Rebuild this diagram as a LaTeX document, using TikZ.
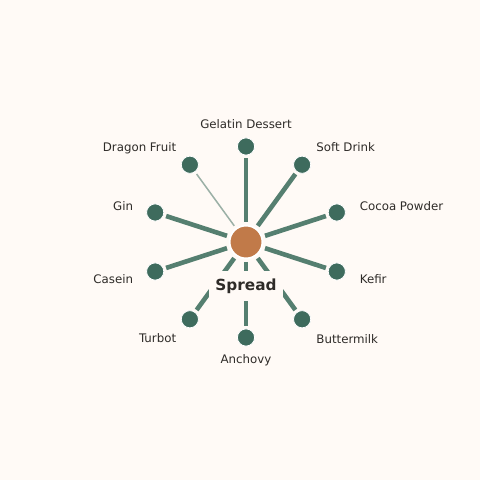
\documentclass[tikz,border=0pt]{standalone}
\usepackage{fontspec}
\setmainfont{DejaVu Sans}
\definecolor{bg}{HTML}{FFFAF6}
\definecolor{leaf}{HTML}{3E6B5D}
\definecolor{edge}{HTML}{557F70}
\definecolor{thin}{HTML}{9BB0A6}
\definecolor{hub}{HTML}{C17A49}
\definecolor{txt}{HTML}{2E2B28}
\begin{document}
\begin{tikzpicture}[x=1pt,y=1pt,
  leafnode/.style={circle,fill=leaf,draw=white,line width=0.8pt,minimum size=17.2pt,inner sep=0pt,outer sep=0pt},
  hubnode/.style={circle,fill=hub,draw=white,line width=1.6pt,minimum size=32.6pt,inner sep=0pt,outer sep=0pt},
  spoke/.style={draw=edge,line width=4.6pt,shorten <=3.7pt,shorten >=2.9pt},
  thinspoke/.style={draw=thin,line width=1.5pt,shorten <=3.7pt,shorten >=2.9pt},
  lbl/.style={text=txt,font=\fontsize{11.8}{13}\selectfont,inner sep=0pt},
  hublbl/.style={text=txt,font=\fontsize{15.3}{17}\selectfont\bfseries,fill=bg,inner xsep=6pt,minimum height=30pt}
]
\fill[bg] (0,0) rectangle (480,480);
\useasboundingbox (0,0) rectangle (480,480);
\begin{scope}[shift={(246,238)}]
\node[hubnode] (c) at (0,0) {};
\node[leafnode] (n1) at (90:95.5) {};
\node[leafnode] (n2) at (54:95.5) {};
\node[leafnode] (n3) at (18:95.5) {};
\node[leafnode] (n4) at (-18:95.5) {};
\node[leafnode] (n5) at (-54:95.5) {};
\node[leafnode] (n6) at (-90:95.5) {};
\node[leafnode] (n7) at (-126:95.5) {};
\node[leafnode] (n8) at (-162:95.5) {};
\node[leafnode] (n9) at (162:95.5) {};
\node[leafnode] (n10) at (126:95.5) {};
\node[lbl,anchor=center] (l1) at (90:118) {Gelatin Dessert};
\node[lbl,anchor=west,yshift=-1.5pt] (l2) at (54:119.5) {Soft Drink};
\node[lbl,anchor=west,yshift=-1pt] (l3) at (18:119.5) {Cocoa Powder};
\node[lbl,anchor=west] (l4) at (-18:119.5) {Kefir};
\node[lbl,anchor=west] (l5) at (-54:119.5) {Buttermilk};
\node[lbl,anchor=center] (l6) at (-90:118) {Anchovy};
\node[lbl,anchor=east] (l7) at (-126:118.5) {Turbot};
\node[lbl,anchor=east] (l8) at (-162:118.5) {Casein};
\node[lbl,anchor=east,yshift=-1pt] (l9) at (162:118.5) {Gin};
\node[lbl,anchor=east,yshift=-2.2pt] (l10) at (126:118.5) {Dragon Fruit};
\end{scope}
\foreach \i in {1,...,9} {\path[spoke] (c) -- (n\i);}
\path[thinspoke] (c) -- (n10);
\begin{scope}[shift={(246,238)}]
\node[hubnode] at (0,0) {};
\foreach \a in {90,54,18,-18,-54,-90,-126,-162,162,126} {\node[leafnode] at (\a:95.5) {};}
\node[hublbl] (s) at (0,-44.5) {Spread};
\end{scope}
\end{tikzpicture}
\end{document}
